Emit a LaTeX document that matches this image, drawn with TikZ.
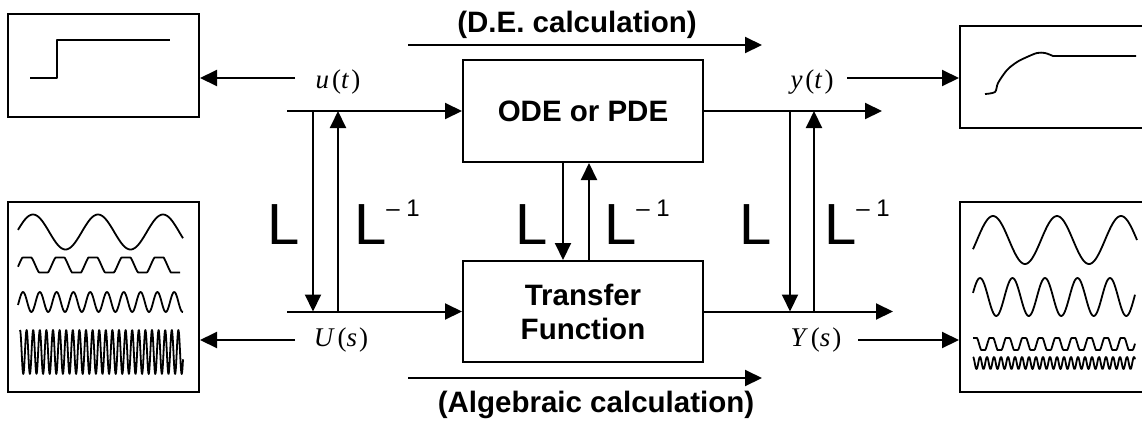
\documentclass[tikz,border=0pt]{standalone}
\usepackage{fontspec}
\setmainfont{Liberation Sans}
\newfontfamily\timesfont{Liberation Serif}
\usetikzlibrary{arrows.meta}

\newcommand{\sig}[2]{{\timesfont\fontsize{27}{27}\selectfont\textit{#1}\hspace{3pt}(\textit{#2}\hspace{2pt})}}
\newcommand{\Lap}{{\fontsize{58}{58}\selectfont L}}
\newcommand{\Lapinv}{{\fontsize{58}{58}\selectfont L}\raisebox{28pt}{\fontsize{24}{24}\selectfont\textendash\ 1}}

\begin{document}
\begin{tikzpicture}[x=1pt, y=-1pt, line width=2pt,
    arr/.style={-{Triangle[length=17pt,width=16pt]}},
    block/.style={draw, inner sep=0pt, align=center, font=\bfseries\fontsize{29.5}{34}\selectfont},
    screen/.style={draw, inner sep=0pt},
    wave/.style={line width=1.8pt, line join=round},
    lap/.style={anchor=base west, inner sep=0pt},
    note/.style={font=\bfseries\fontsize{29.5}{34}\selectfont}]
    \useasboundingbox (0,0) rectangle (1142,421);
    % blocks
    \node[block, minimum width=240pt, minimum height=102pt] (ode) at (583,111) {ODE or PDE};
    \node[block, minimum width=240pt, minimum height=101pt] (tf) at (583,311.5) {Transfer\\Function};
    % screens
    \node[screen, minimum width=191pt, minimum height=103pt] (utscreen) at (103.5,65.5) {};
    \node[screen, minimum width=191pt, minimum height=190pt] (usscreen) at (103.5,297) {};
    \node[screen, minimum width=186pt, minimum height=102pt] (ytscreen) at (1053,77) {};
    \node[screen, minimum width=186pt, minimum height=190pt] (ysscreen) at (1053,297) {};
    % signal labels
    \node (ut) at (338,82) {\sig{u}{t}};
    \node (yt) at (812,82) {\sig{y}{t}};
    \node (Us) at (341,340) {\sig{U}{s}};
    \node (Ys) at (816,340) {\sig{Y}{s}};
    \node[note] (de) at (577,25) {(D.E. calculation)};
    \node[note] (alg) at (596,405) {(Algebraic calculation)};
    % Laplace labels
    \node[lap] (L1) at (266,244) {\Lap};
    \node[lap] (Li1) at (353,244) {\Lapinv};
    \node[lap] (L2) at (514,244) {\Lap};
    \node[lap] (Li2) at (603,244) {\Lapinv};
    \node[lap] (L3) at (738,244) {\Lap};
    \node[lap] (Li3) at (823,244) {\Lapinv};
    % free ends
    \coordinate (uin) at (287,111);
    \coordinate (Uin) at (287,311.5);
    \coordinate (yout) at (882,111);
    \coordinate (Yout) at (893,311.5);
    \coordinate (ut-l) at (295,78);
    \coordinate (Us-l) at (295,340);
    \coordinate (yt-r) at (847,78);
    \coordinate (Ys-r) at (858,340);
    \coordinate (de-a) at (408,45);
    \coordinate (de-b) at (762,45);
    \coordinate (alg-a) at (408,378);
    \coordinate (alg-b) at (762,378);
    \coordinate (xL1) at (313,0);
    \coordinate (xLi1) at (338,0);
    \coordinate (xL2) at (563,0);
    \coordinate (xLi2) at (589,0);
    \coordinate (xL3) at (790,0);
    \coordinate (xLi3) at (814,0);
    % connectors
    \draw[arr] (uin) -- (ode.west);
    \draw[arr] (Uin) -- (tf.west);
    \draw[arr] (ode.east) -- (yout);
    \draw[arr] (tf.east) -- (Yout);
    \draw[arr] (xL1 |- uin) -- (xL1 |- Uin);
    \draw[arr] (xLi1 |- Uin) -- (xLi1 |- uin);
    \draw[arr] (xL2 |- ode.south) -- (xL2 |- tf.north);
    \draw[arr] (xLi2 |- tf.north) -- (xLi2 |- ode.south);
    \draw[arr] (xL3 |- yout) -- (xL3 |- Yout);
    \draw[arr] (xLi3 |- Yout) -- (xLi3 |- yout);
    \draw[arr] (ut-l) -- (utscreen.east |- ut-l);
    \draw[arr] (Us-l) -- (usscreen.east |- Us-l);
    \draw[arr] (yt-r) -- (ytscreen.west |- yt-r);
    \draw[arr] (Ys-r) -- (ysscreen.west |- Ys-r);
    \draw[arr] (de-a) -- (de-b);
    \draw[arr] (alg-a) -- (alg-b);
    % step input and response
    \draw[wave] (30,78) -- (57,78) -- (57,40) -- (170,40);
    \draw[wave] plot[smooth] coordinates {(985,94) (995,92) (998,83) (1007,70) (1017,62) (1027,57) (1037,53) (1045,53) (1053,56)} -- (1136,56);
    % input spectrum
    \draw[wave] plot[domain=18:183, samples=120] (\x, {232-17.5*cos((\x-33)/65*360)});
    \draw[wave] plot[domain=18:180, samples=160] (\x, {265-7.5*max(-1,min(1,1.6*cos((\x-27)/33*360)))});
    \draw[wave] plot[domain=18:183, samples=200] (\x, {302-10*cos((\x-23)/16.8*360)});
    \draw[wave] plot[domain=20:183, samples=500] (\x, {352-22*cos((\x-20)/6.6*360)});
    % output spectrum
    \draw[wave] plot[domain=973:1137, samples=120] (\x, {240-24*cos((\x-1057)/64*360)});
    \draw[wave] plot[domain=973:1135, samples=160] (\x, {297-19*cos((\x-980)/32.5*360)});
    \draw[wave] plot[domain=973:1135, samples=200] (\x, {344-6*max(-1,min(1,1.5*cos((\x-975)/16.4*360)))});
    \draw[wave] plot[domain=973:1135, samples=400] (\x, {363-6*cos((\x-973)/7*360)});
\end{tikzpicture}
\end{document}
